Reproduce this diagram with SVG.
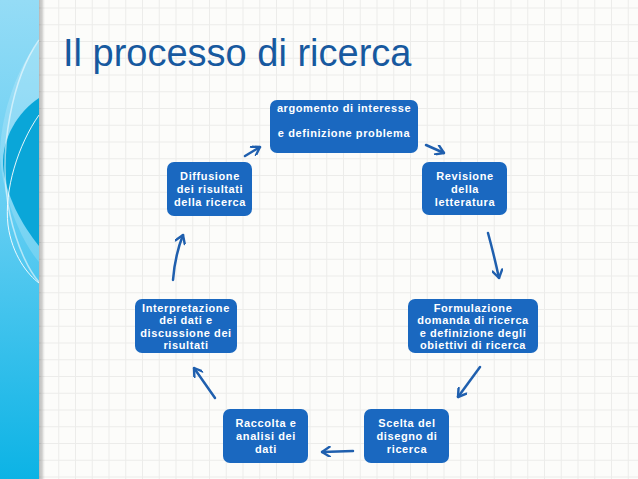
<svg xmlns="http://www.w3.org/2000/svg" width="638" height="479" viewBox="0 0 638 479">
  <defs>
    <pattern id="grid" patternUnits="userSpaceOnUse" x="8" y="7.5" width="16.75" height="16.75">
      <path d="M0.5,0 V16.75 M0,0.5 H16.75" stroke="#ececea" stroke-width="1" fill="none"/>
    </pattern>
    <linearGradient id="panel" x1="0" y1="0" x2="0" y2="1">
      <stop offset="0" stop-color="#95dcf6"/>
      <stop offset="0.45" stop-color="#62cdf2"/>
      <stop offset="1" stop-color="#0cb3e5"/>
    </linearGradient>
    <linearGradient id="shadow" x1="0" y1="0" x2="1" y2="0">
      <stop offset="0" stop-color="#000" stop-opacity="0.28"/>
      <stop offset="1" stop-color="#000" stop-opacity="0"/>
    </linearGradient>
    <marker id="head" viewBox="0 0 10 10" refX="9" refY="5" markerWidth="11" markerHeight="11" markerUnits="userSpaceOnUse" orient="auto">
      <path d="M2,0.5 L9,5 L2,9.5" fill="none" stroke="#1f5fae" stroke-width="2.2" stroke-linecap="round" stroke-linejoin="round"/>
    </marker>
    <style>
      .node rect { fill: #1a68c0; }
      .node text { fill: #ffffff; font-family: "Liberation Sans", Arial, sans-serif; font-size: 11px; font-weight: bold; letter-spacing: 0.6px; text-anchor: middle; }
      .conn path { fill: none; stroke: #1f5fae; stroke-width: 2.5; stroke-linecap: round; marker-end: url(#head); }
      .title { fill: #17599f; font-family: "Liberation Sans", Arial, sans-serif; font-size: 38px; }
    </style>
  </defs>

  <!-- background -->
  <rect x="0" y="0" width="638" height="479" fill="#fcfcfa"/>
  <rect x="0" y="0" width="638" height="479" fill="url(#grid)"/>

  <!-- left decorative panel -->
  <g id="panel-deco">
    <rect x="0" y="0" width="39" height="479" fill="url(#panel)"/>
    <path d="M39,42 C18,65 2,110 0,150 C0,190 20,240 39,262 Z" fill="#ffffff" fill-opacity="0.18"/>
    <path d="M39,98 C18,112 2,138 3,165 C5,195 22,225 39,246 Z" fill="#0aa6d8"/>
    <path d="M39,40 C14,75 -4,150 10,215 C18,250 30,272 39,282" fill="none" stroke="#ffffff" stroke-opacity="0.55" stroke-width="1.5"/>
    <path d="M39,115 C18,145 4,190 8,225 C12,255 28,275 39,283" fill="none" stroke="#ffffff" stroke-opacity="0.9" stroke-width="1"/>
    <rect x="39" y="0" width="6" height="479" fill="url(#shadow)"/>
  </g>

  <text class="title" x="63" y="66">Il processo di ricerca</text>

  <g id="connectors" class="conn">
    <path d="M245,156 L260,147"/>
    <path d="M426,145 L444,153"/>
    <path d="M488,233 Q494,255 499,278"/>
    <path d="M480,367 L458,397"/>
    <path d="M353,451 L322,452"/>
    <path d="M215,398 L194,368"/>
    <path d="M173,280 Q175,255 183,235"/>
  </g>

  <g id="node-argomento" class="node">
    <rect x="270" y="100" width="148" height="53" rx="7"/>
    <text x="344" y="112">argomento di interesse</text>
    <text x="344" y="137">e definizione problema</text>
  </g>

  <g id="node-revisione" class="node">
    <rect x="422" y="162" width="85" height="53" rx="7"/>
    <text x="465" y="180">Revisione</text>
    <text x="465" y="193">della</text>
    <text x="465" y="206">letteratura</text>
  </g>

  <g id="node-formulazione" class="node">
    <rect x="408" y="299" width="130" height="54" rx="7"/>
    <text x="473" y="311.5">Formulazione</text>
    <text x="473" y="324">domanda di ricerca</text>
    <text x="473" y="336.5">e definizione degli</text>
    <text x="473" y="349">obiettivi di ricerca</text>
  </g>

  <g id="node-scelta" class="node">
    <rect x="364" y="409" width="85" height="54" rx="7"/>
    <text x="407" y="427">Scelta del</text>
    <text x="407" y="440">disegno di</text>
    <text x="407" y="453">ricerca</text>
  </g>

  <g id="node-raccolta" class="node">
    <rect x="223" y="409" width="85" height="54" rx="7"/>
    <text x="266" y="427">Raccolta e</text>
    <text x="266" y="440">analisi dei</text>
    <text x="266" y="453">dati</text>
  </g>

  <g id="node-interpretazione" class="node">
    <rect x="135" y="299" width="102" height="54" rx="7"/>
    <text x="186" y="311.5">Interpretazione</text>
    <text x="186" y="324">dei dati e</text>
    <text x="186" y="336.5">discussione dei</text>
    <text x="186" y="349">risultati</text>
  </g>

  <g id="node-diffusione" class="node">
    <rect x="167" y="162" width="85" height="54" rx="7"/>
    <text x="210" y="180">Diffusione</text>
    <text x="210" y="193">dei risultati</text>
    <text x="210" y="206">della ricerca</text>
  </g>
</svg>
